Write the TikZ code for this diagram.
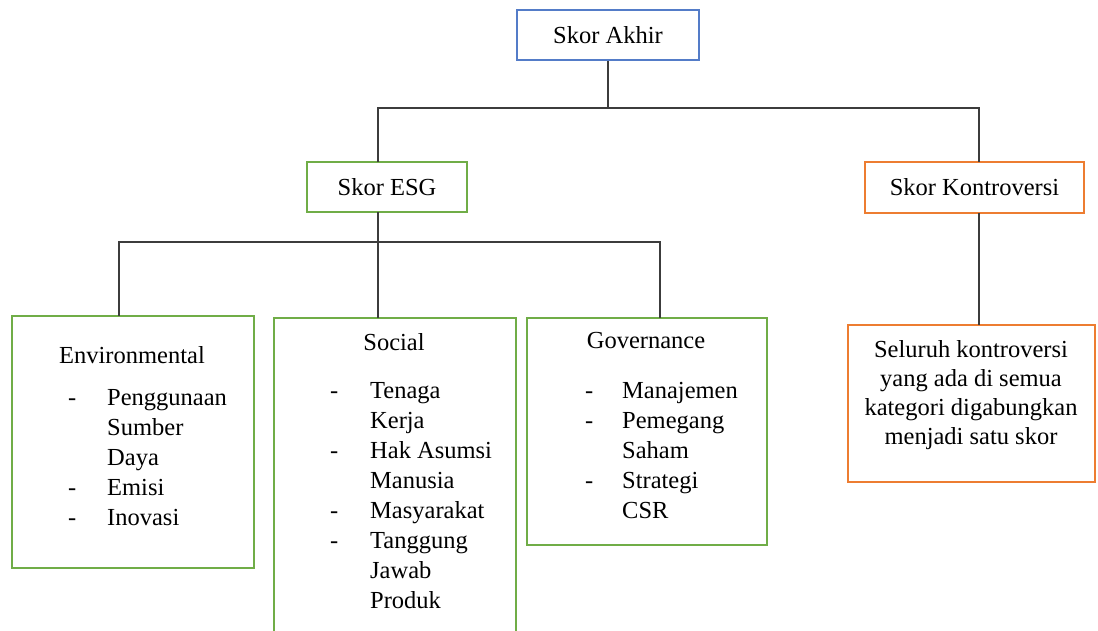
\documentclass[tikz,border=0pt]{standalone}
\usepackage{fontspec}
\setmainfont{Liberation Serif}
\definecolor{bblue}{RGB}{84,124,200}
\definecolor{bgreen}{RGB}{112,173,71}
\definecolor{borange}{RGB}{237,125,49}
\definecolor{lgray}{RGB}{60,60,60}
\begin{document}
\begin{tikzpicture}[x=1pt,y=-1pt,
  box/.style={draw, line width=1.5pt, rectangle, inner sep=0pt, anchor=center,
    font=\fontsize{24.5}{30}\selectfont},
  conn/.style={draw=lgray, line width=1.6pt},
  txt/.style={inner sep=0pt, anchor=base west, font=\fontsize{24.5}{30}\selectfont},
  ttl/.style={inner sep=0pt, anchor=base, font=\fontsize{24.5}{30}\selectfont}]
\clip (0,0) rectangle (1098,630);
\fill[white] (0,0) rectangle (1098,630);

% top level
\node[box, draw=bblue, minimum width=182pt, minimum height=50pt] (akhir) at (608,35) {Skor Akhir};
\node[box, draw=bgreen, minimum width=160pt, minimum height=50pt] (esg) at (387,187) {Skor ESG};
\node[box, draw=borange, minimum width=219pt, minimum height=51pt] (kon) at (974.5,187.5) {Skor Kontroversi};

% second level boxes
\node[box, draw=bgreen, minimum width=242pt, minimum height=252pt] (env) at (133,442) {};
\node[box, draw=bgreen, minimum width=242pt, minimum height=342pt] (soc) at (395,489) {};
\node[box, draw=bgreen, minimum width=240pt, minimum height=227pt] (gov) at (647,431.5) {};
\node[box, draw=borange, minimum width=247pt, minimum height=157pt] (desc) at (971.5,403.5) {};

% connector points
\coordinate (j1) at (608,108);
\coordinate (esgtop) at (378,162);
\coordinate (esgbot) at (378,212);
\coordinate (kontop) at (979,162);
\coordinate (konbot) at (979,213);
\coordinate (desctop) at (979,325);
\coordinate (j2) at (378,242);
\coordinate (envtop) at (119,316);
\coordinate (soctop) at (378,318);
\coordinate (govtop) at (660,318);

\draw[conn] (akhir.south) -- (j1);
\draw[conn] (j1) -| (esgtop);
\draw[conn] (j1) -| (kontop);
\draw[conn] (konbot) -- (desctop);
\draw[conn] (esgbot) -- (j2);
\draw[conn] (j2) -| (envtop);
\draw[conn] (j2) -- (soctop);
\draw[conn] (j2) -| (govtop);

% Environmental
\node[ttl] (envt) at (132,363) {Environmental};
\node[txt] (envd1) at (68,405) {-};
\node[txt] (envd2) at (68,495) {-};
\node[txt] (envd3) at (68,525) {-};
\node[txt] (env1) at (107,405) {Penggunaan};
\node[txt] (env2) at (107,435) {Sumber};
\node[txt] (env3) at (107,465) {Daya};
\node[txt] (env4) at (107,495) {Emisi};
\node[txt] (env5) at (107,525) {Inovasi};

% Social
\node[ttl] (soct) at (394,350) {Social};
\node[txt] (socd1) at (330,398) {-};
\node[txt] (socd2) at (330,458) {-};
\node[txt] (socd3) at (330,518) {-};
\node[txt] (socd4) at (330,548) {-};
\node[txt] (soc1) at (370,398) {Tenaga};
\node[txt] (soc2) at (370,428) {Kerja};
\node[txt] (soc3) at (370,458) {Hak Asumsi};
\node[txt] (soc4) at (370,488) {Manusia};
\node[txt] (soc5) at (370,518) {Masyarakat};
\node[txt] (soc6) at (370,548) {Tanggung};
\node[txt] (soc7) at (370,578) {Jawab};
\node[txt] (soc8) at (370,608) {Produk};

% Governance
\node[ttl] (govt) at (646,348) {Governance};
\node[txt] (govd1) at (585,398) {-};
\node[txt] (govd2) at (585,428) {-};
\node[txt] (govd3) at (585,488) {-};
\node[txt] (gov1) at (622,398) {Manajemen};
\node[txt] (gov2) at (622,428) {Pemegang};
\node[txt] (gov3) at (622,458) {Saham};
\node[txt] (gov4) at (622,488) {Strategi};
\node[txt] (gov5) at (622,518) {CSR};

% Description
\node[inner sep=0pt, anchor=north, align=center, font=\fontsize{24.5}{29}\selectfont] (desct) at (971,340)
  {Seluruh kontroversi\\yang ada di semua\\kategori digabungkan\\menjadi satu skor};
\end{tikzpicture}
\end{document}
